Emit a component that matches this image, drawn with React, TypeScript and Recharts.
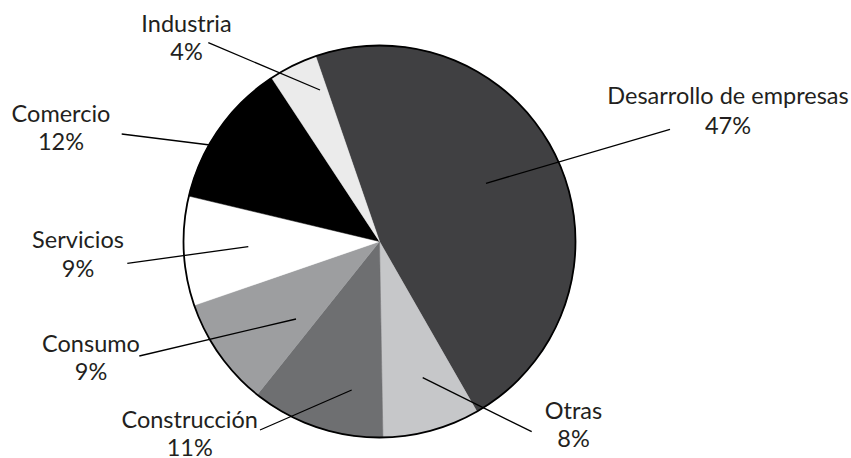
import React from 'react';
import { PieChart, Pie, Cell } from 'recharts';

const categories = ['Desarrollo de empresas', 'Otras', 'Construcción', 'Consumo', 'Servicios', 'Comercio', 'Industria'];
const shares = [47, 8, 11, 9, 9, 12, 4];
const percentLabels = ['47%', '8%', '11%', '9%', '9%', '12%', '4%'];
const sliceColors = ['#404042', '#c6c7c9', '#6e6f71', '#9d9ea0', '#ffffff', '#000000', '#ebebeb'];

const data = categories.map((name, i) => ({ name, value: shares[i], pct: percentLabels[i] }));
const ring = [{ name: 'outline', value: 1 }];

// label leader-line and text placement, offsets from pie centre (px)
const LABEL_LAYOUT = [
  { sx: 106.5, sy: -58.2, ex: 290.5, ey: -112.2, tx: 348.5, ty1: -137.2, ty2: -107.2 },
  { sx: 43.2, sy: 136.2, ex: 152.2, ey: 190.2, tx: 194, ty1: 177.8, ty2: 205.8 },
  { sx: -27.8, sy: 148.5, ex: -119.5, ey: 188.5, tx: -189.8, ty1: 186.8, ty2: 214.5 },
  { sx: -83.5, sy: 77.5, ex: -240.2, ey: 114.5, tx: -288.5, ty1: 110.2, ty2: 138.5 },
  { sx: -131.2, sy: 5.2, ex: -252.2, ey: 21.8, tx: -301.5, ty1: 6.8, ty2: 35.2 },
  { sx: -169.5, sy: -96.5, ex: -257.8, ey: -107.5, tx: -318.5, ty1: -119.8, ty2: -91.5 },
  { sx: -59.5, sy: -151.5, ex: -171.2, ey: -198.8, tx: -193, ty1: -209.8, ty2: -181.5 },
];

const FONT = 'Lato, "Open Sans", sans-serif';
const FONT_SIZE = 23.5;
const R = 196;

const renderLabel = (props: any) => {
  const { cx, cy, index } = props;
  const L = LABEL_LAYOUT[index];
  const d = data[index];
  return (
    <g key={`lbl-${index}`}>
      <line x1={cx + L.sx} y1={cy + L.sy} x2={cx + L.ex} y2={cy + L.ey} stroke="#000" strokeWidth={1.3} />
      <text x={cx + L.tx} y={cy + L.ty1} textAnchor="middle" fontFamily={FONT} fontSize={FONT_SIZE} fill="#231f20">
        {d.name}
      </text>
      <text x={cx + L.tx} y={cy + L.ty2} textAnchor="middle" fontFamily={FONT} fontSize={FONT_SIZE} fill="#231f20">
        {d.pct}
      </text>
    </g>
  );
};

export default function App() {
  return (
    <div style={{ position: 'absolute', left: 0, top: 0, background: '#fff' }}>
      <PieChart width={851} height={458} margin={{ top: 0, right: 0, bottom: 0, left: 0 }}>
        <Pie
          data={data}
          dataKey="value"
          nameKey="name"
          cx={379.5}
          cy={241.5}
          outerRadius={R}
          startAngle={109}
          endAngle={-251}
          label={renderLabel}
          labelLine={false}
          isAnimationActive={false}
        >
          {data.map((d, i) => (
            <Cell key={d.name} fill={sliceColors[i]} stroke={sliceColors[i]} strokeWidth={0.5} />
          ))}
        </Pie>
        <Pie
          data={ring}
          dataKey="value"
          cx={379.5}
          cy={241.5}
          innerRadius={R - 0.9}
          outerRadius={R + 0.9}
          startAngle={90}
          endAngle={-270}
          fill="#000"
          stroke="none"
          isAnimationActive={false}
        />
      </PieChart>
    </div>
  );
}
